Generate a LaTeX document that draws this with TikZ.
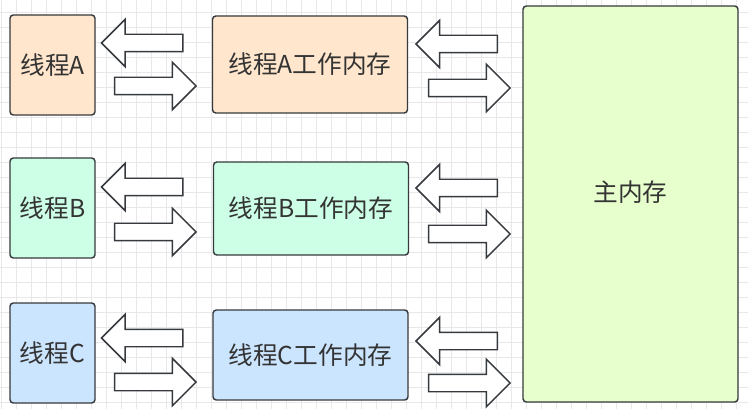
\documentclass[tikz,border=0pt]{standalone}
\usepackage{fontspec}
\setmainfont{Noto Sans CJK SC}
\usepackage{xcolor}
\usepackage{tikz}
\usetikzlibrary{shapes.arrows}
\definecolor{edge}{HTML}{36393D}
\definecolor{ink}{HTML}{333333}
\definecolor{gridc}{HTML}{E8E8E8}
\definecolor{fillA}{HTML}{FFE6CC}
\definecolor{fillB}{HTML}{CCFFE6}
\definecolor{fillC}{HTML}{CCE5FF}
\definecolor{fillM}{HTML}{E6FFCC}
\tikzstyle{box}=[draw=edge,line width=1.1pt,rounded corners=2.5pt,text=ink,font=\fontsize{18.5}{22}\selectfont,inner sep=0pt]
\tikzstyle{thread}=[box,minimum width=63.75pt,minimum height=75pt]
\tikzstyle{work}=[box,minimum width=146.25pt]
\tikzstyle{flow}=[single arrow,draw=edge,fill=white,line width=1.1pt,inner xsep=0pt,inner ysep=6pt,
  single arrow head extend=11.25pt,single arrow tip angle=90,minimum height=61pt]
\tikzstyle{fwd}=[flow]
\tikzstyle{back}=[flow,shape border rotate=180]
\begin{document}
\begin{tikzpicture}[x=0.75pt,y=-0.75pt]
	\useasboundingbox[fill=white] (0,0) rectangle (748,409);
	% grid
	\foreach \i in {0,...,49} \draw[gridc,line width=0.6pt] (1+15*\i,0) -- (1+15*\i,409);
	\foreach \i in {0,...,26} \draw[gridc,line width=0.6pt] (0,12.5+15*\i) -- (748,12.5+15*\i);
	% boxes
	\node[thread,fill=fillA] (tA) at (52.5,65)  {线程A};
	\node[thread,fill=fillB] (tB) at (52.5,208) {线程B};
	\node[thread,fill=fillC] (tC) at (52.5,353) {线程C};
	\node[work,fill=fillA,minimum height=72.75pt] (wA) at (310,64.5)  {线程A工作内存};
	\node[work,fill=fillB,minimum height=69.75pt] (wB) at (311,208.5) {线程B工作内存};
	\node[work,fill=fillC,minimum height=67.5pt]  (wC) at (310.5,355) {线程C工作内存};
	\node[box,fill=fillM,minimum width=161.25pt,minimum height=297pt,
	      label={[text=ink,font=\fontsize{18.5}{22}\selectfont,yshift=9pt]center:主内存}] (mem) at (630.5,204) {};
	% arrows
	\foreach \r/\ya/\yb/\yc/\yd in {A/43/86/44/88, B/187/232/188/234, C/338/382/341/383} {
		\node[back] (bt\r) at (146.5,\ya) {};
		\node[fwd]  (ft\r) at (151,\yb)   {};
		\node[back] (bw\r) at (461,\yc)   {};
		\node[fwd]  (fw\r) at (465,\yd)   {};
	}
\end{tikzpicture}
\end{document}
